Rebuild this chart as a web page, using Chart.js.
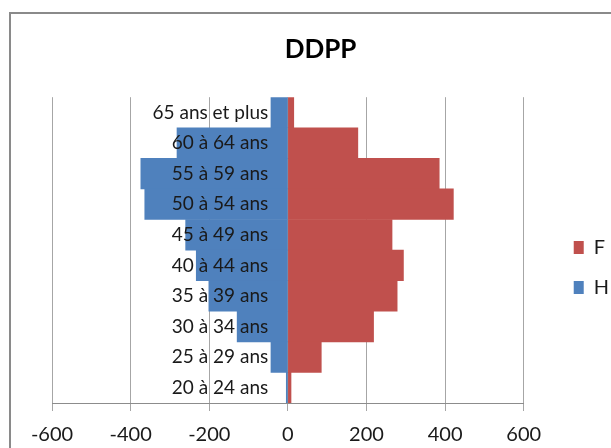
<!DOCTYPE html>
<html>
<head>
<meta charset="utf-8">
<script src="https://cdn.jsdelivr.net/npm/chart.js@4"></script>
<style>
  html, body { margin: 0; padding: 0; background: #fff; overflow: hidden; }
  /* cadre gris du graphique (bords droit et bas hors champ) */
  #cadre { position: absolute; left: 9px; top: 12px; width: 800px; height: 600px;
           border-left: 2px solid #8a8a8a; border-top: 2px solid #8a8a8a; }
  #zone { position: absolute; left: 0; top: 0; width: 611px; height: 448px; }
</style>
</head>
<body>
<div id="cadre"></div>
<div id="zone"><canvas id="pyramide" width="611" height="448"></canvas></div>
<script>
// Tranches d'âge, du haut vers le bas
const tranches = ['65 ans et plus', '60 à 64 ans', '55 à 59 ans', '50 à 54 ans', '45 à 49 ans',
                  '40 à 44 ans', '35 à 39 ans', '30 à 34 ans', '25 à 29 ans', '20 à 24 ans'];
// Effectifs femmes (à droite) et hommes (à gauche, en négatif)
const femmes = [15, 178, 385, 421, 265, 294, 278, 218, 85, 8];
const hommes = [-43, -282, -374, -364, -260, -233, -201, -129, -43, -4];
// Graduations de l'axe horizontal
const graduations = [-600, -400, -200, 0, 200, 400, 600];

Chart.defaults.font.family = 'Lato, "Open Sans", sans-serif';
Chart.defaults.color = '#1a1a1a';

// la légende Excel est décalée vers la droite et vers le bas
const decalageLegende = {
  id: 'decalageLegende',
  afterLayout(chart) {
    const lg = chart.legend;
    lg.left += 30; lg.right += 30;
    lg.top += 38; lg.bottom += 38;
  }
};

const ctx = document.getElementById('pyramide').getContext('2d');

new Chart(ctx, {
  type: 'bar',
  data: {
    labels: tranches,
    datasets: [
      { label: 'F', data: femmes, backgroundColor: '#C0504D', barPercentage: 1, categoryPercentage: 1 },
      { label: 'H', data: hommes, backgroundColor: '#4F81BD', barPercentage: 1, categoryPercentage: 1 }
    ]
  },
  plugins: [decalageLegende],
  options: {
    indexAxis: 'y',
    responsive: false,
    animation: false,
    layout: { padding: { left: 52, right: 22, top: 0, bottom: -11 } },
    scales: {
      x: {
        stacked: true,
        min: -600,
        max: 600,
        afterBuildTicks: axe => { axe.ticks = graduations.map(v => ({ value: v })); },
        grid: { color: '#a6a6a6', tickLength: 8, tickColor: '#a6a6a6' },
        border: { color: '#8c8c8c' },
        ticks: { font: { size: 20 }, padding: 12 }
      },
      y: {
        stacked: true,
        position: { x: -50 }, // étiquettes juste à gauche de l'axe zéro
        grid: { display: false },
        border: { display: false },
        ticks: { font: { size: 19 }, z: 1 } // dessinées par-dessus les barres
      }
    },
    plugins: {
      title: {
        display: true,
        text: 'DDPP',
        color: '#000',
        font: { size: 26, weight: 'bold' },
        padding: { top: 34, bottom: 32 }
      },
      legend: {
        position: 'right',
        labels: { boxWidth: 10, boxHeight: 13, padding: 20, font: { size: 20 } }
      },
      tooltip: { enabled: false }
    }
  }
});
</script>
</body>
</html>
